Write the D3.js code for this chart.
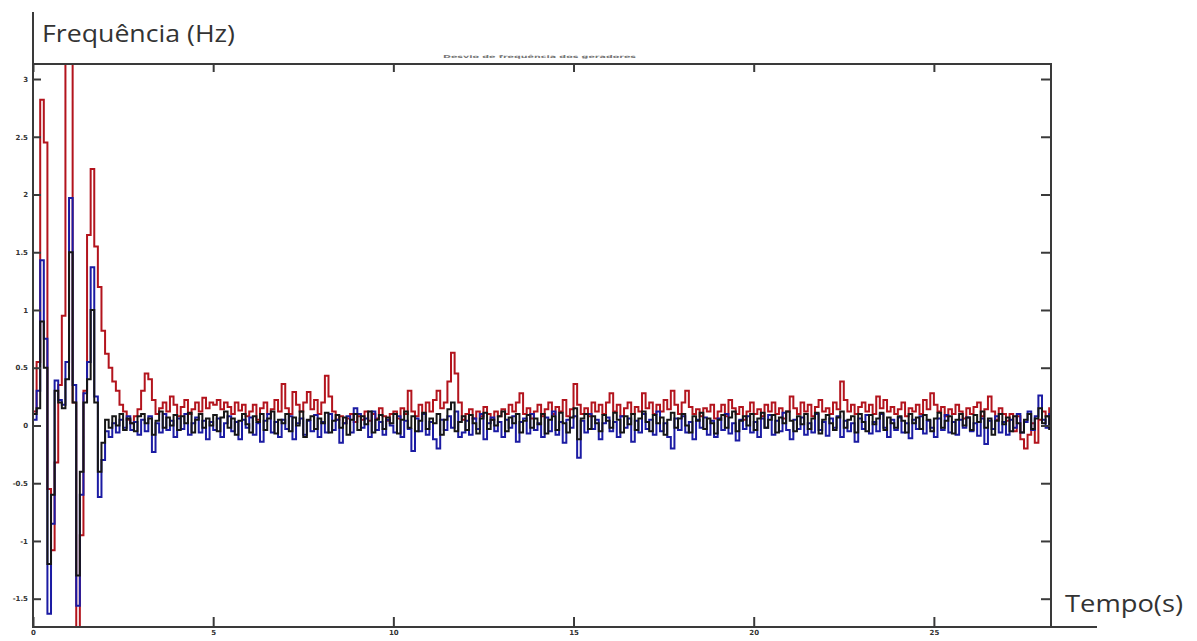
<!DOCTYPE html>
<html>
<head>
<meta charset="utf-8">
<script src="https://cdn.jsdelivr.net/npm/d3@7"></script>
<style>
  html, body { margin: 0; padding: 0; background: #fff; }
  svg { display: block; }
</style>
</head>
<body>
<svg id="chart" width="1197" height="641"></svg>
<script>
// ---- Data ----
const sampleStep = 0.1; // seconds between samples
const yTicks = [3, 2.5, 2, 1.5, 1, 0.5, 0, -0.5, -1, -1.5];
const xTicks = [0, 5, 10, 15, 20, 25];
const yLabel = "Frequência (Hz)";
const xLabel = "Tempo(s)";
const titleText = "Desvio de frequência dos geradores";

const redSeries = [
  0.12, 0.55, 2.82, 2.45, -0.55, -1.08, -0.32, 0.35, 0.95, 3.4,
  3.4, 0.2, -1.9, -0.95, 0.3, 1.65, 2.22, 1.55, 1.2, 0.82,
  0.62, 0.5, 0.38, 0.3, 0.18, 0.12, 0.05, 0.02, 0.08, 0.14,
  0.3, 0.45, 0.4, 0.22, 0.1, 0.15, 0.2, 0.12, 0.25, 0.18,
  0.08, 0.16, 0.22, 0.1, 0.14, 0.2, 0.12, 0.24, 0.15, 0.2,
  0.18, 0.22, 0.14, 0.2, 0.16, 0.1, 0.2, 0.13, 0.18, 0.08,
  0.12, 0.18, 0.05, 0.15, 0.2, 0.1, 0.14, 0.22, 0.12, 0.36,
  0.15, 0.1, 0.29, 0.18, 0.12, 0.2, 0.29, 0.14, 0.22, 0.1,
  0.2, 0.43, 0.25, 0.12, 0.05, 0.08, 0.02, 0.06, 0.1, 0.03,
  0.08, 0.05, 0.12, 0.04, 0.1, 0.06, 0.15, 0.08, 0.04, 0.1,
  0.12, 0.06, 0.15, 0.1, 0.3, 0.12, 0.08, 0.18, 0.1, 0.2,
  0.12, 0.22, 0.3, 0.15, 0.2, 0.38, 0.63, 0.45, 0.2, 0.05,
  0.1, 0.14, 0.06, 0.12, 0.08, 0.16, 0.1, 0.05, 0.12, 0.08,
  0.14, 0.1, 0.18, 0.12, 0.2, 0.28, 0.1, 0.15, 0.06, 0.12,
  0.18, 0.08, 0.14, 0.2, 0.1, 0.16, 0.12, 0.22, 0.08, 0.14,
  0.36, 0.18, 0.1, 0.15, 0.08, 0.2, 0.12, 0.18, 0.1, 0.2,
  0.28, 0.12, 0.18, 0.08, 0.15, 0.2, 0.1, 0.16, 0.12, 0.28,
  0.15, 0.2, 0.1, 0.18, 0.12, 0.22, 0.14, 0.3, 0.18, 0.1,
  0.2, 0.3, 0.16, 0.1, 0.14, 0.08, 0.15, 0.12, 0.18, 0.06,
  0.12, 0.18, 0.08, 0.22, 0.15, 0.1, 0.16, 0.05, 0.12, 0.2,
  0.1, 0.14, 0.08, 0.18, 0.12, 0.2, 0.1, 0.15, 0.06, 0.12,
  0.25, 0.15, 0.1, 0.2, 0.12, 0.18, 0.08, 0.16, 0.22, 0.12,
  0.15, 0.1, 0.2, 0.14, 0.38, 0.22, 0.12, 0.18, 0.1, 0.16,
  0.2, 0.12, 0.18, 0.1, 0.25, 0.15, 0.22, 0.12, 0.16, 0.1,
  0.14, 0.2, 0.08, 0.15, 0.12, 0.18, 0.1, 0.22, 0.14, 0.28,
  0.18, 0.12, 0.16, 0.08, 0.14, 0.1, 0.18, 0.12, 0.06, 0.15,
  0.1, 0.16, 0.2, 0.08, 0.14, 0.25, 0.12, 0.05, 0.15, 0.1,
  0.04, 0.1, -0.05, 0.08, -0.12, -0.2, -0.08, 0.02, -0.15, 0.05,
  0.12, 0.08, 0.15, 0.1
];

const blueSeries = [
  0.05, 0.3, 1.43, 0.75, -1.63, -0.85, 0.39, 0.22, 0.18, 0.55,
  1.97, 0.35, -1.56, -0.6, 0.28, 0.55, 1.37, 0.25, -0.62, -0.3,
  -0.05, -0.1, 0.02, -0.06, 0.05, -0.02, 0.08, -0.04, 0.03, -0.08,
  0.05, -0.05, 0.08, -0.23, 0.02, -0.06, 0.1, -0.04, 0.04, -0.1,
  0.06, -0.03, 0.1, -0.08, 0.02, 0.07, -0.06, 0.04, -0.12, 0.03,
  -0.04, 0.06, -0.1, 0.02, 0.08, -0.05, 0.03, -0.12, 0.05, -0.02,
  0.07, -0.08, 0.02, -0.14, 0.04, 0.1, -0.06, 0.03, -0.1, 0.05,
  -0.03, 0.08, -0.12, 0.02, 0.06, -0.08, 0.04, -0.05, 0.09, -0.1,
  0.03, -0.06, 0.1, -0.04, 0.05, -0.15, 0.02, 0.08, -0.06, 0.15,
  0.1, -0.02, 0.06, -0.1, 0.12, -0.04, 0.03, -0.08, 0.05, 0.0,
  -0.06, 0.08, -0.1, 0.04, -0.03, -0.22, 0.06, -0.05, 0.1, -0.08,
  0.03, -0.12, -0.2, 0.05, -0.04, 0.08, -0.02, 0.12, -0.1, -0.06,
  0.04, -0.08, 0.06, -0.03, 0.1, -0.12, 0.02, 0.07, -0.05, 0.03,
  -0.1, 0.05, -0.02, 0.08, -0.14, 0.03, 0.06, -0.07, 0.1, -0.04,
  0.02, -0.1, 0.07, -0.05, 0.12, -0.08, 0.03, -0.15, 0.05, -0.02,
  0.08, -0.28, 0.04, -0.06, 0.1, -0.03, 0.05, -0.12, 0.02, 0.07,
  -0.05, 0.03, -0.1, 0.08, -0.02, 0.06, -0.14, 0.04, -0.06, 0.1,
  -0.03, 0.05, -0.08, 0.12, -0.05, 0.02, -0.1, -0.2, 0.06, -0.04,
  0.08, -0.06, 0.03, -0.12, 0.05, -0.02, 0.07, -0.08, 0.04, -0.1,
  0.06, -0.04, 0.1, -0.07, 0.02, -0.13, 0.05, -0.03, 0.08, -0.06,
  0.03, -0.1, 0.06, -0.02, 0.09, -0.08, 0.04, -0.05, 0.11, -0.04,
  -0.12, 0.05, -0.03, 0.07, -0.08, 0.02, -0.06, 0.1, -0.04, 0.03,
  -0.09, 0.06, -0.02, 0.08, -0.1, 0.04, -0.05, 0.02, -0.14, 0.06,
  -0.03, 0.09, -0.07, 0.03, -0.05, 0.1, -0.02, -0.1, 0.05, -0.04,
  0.07, -0.06, 0.02, -0.11, 0.05, -0.03, 0.08, -0.07, 0.04, -0.02,
  -0.1, 0.06, -0.04, 0.09, -0.06, 0.03, -0.08, 0.05, -0.02, 0.07,
  -0.05, 0.02, -0.09, 0.06, -0.16, 0.04, -0.03, 0.08, -0.06, 0.03,
  -0.08, 0.05, -0.02, 0.1, -0.06, 0.03, 0.12, -0.04, 0.08, 0.26,
  0.05, -0.02, 0.1, -0.04
];

const blackSeries = [
  0.1, 0.15, 0.9, 0.5, -1.2, -0.6, 0.3, 0.2, 0.15, 0.4,
  1.5, 0.2, -1.3, -0.4, 0.2, 0.4, 1.0, 0.2, -0.4, -0.15,
  0.05, -0.02, 0.08, 0.0, 0.1, -0.04, 0.06, 0.02, -0.05, 0.08,
  0.1, 0.02, 0.06, -0.08, 0.04, 0.12, -0.02, 0.07, 0.0, 0.09,
  -0.04, 0.08, 0.02, 0.11, -0.06, 0.05, 0.1, -0.02, 0.06, 0.0,
  0.09, -0.05, 0.07, 0.12, -0.02, 0.06, -0.08, 0.04, 0.1, 0.01,
  -0.06, 0.08, 0.03, 0.1, -0.04, 0.06, 0.12, -0.07, 0.05, 0.02,
  0.1, -0.05, 0.07, 0.0, 0.12, -0.1, 0.05, 0.08, -0.03, 0.06,
  0.02, 0.11, -0.06, 0.04, 0.09, -0.02, 0.07, -0.08, 0.05, 0.1,
  -0.04, 0.08, 0.01, 0.12, -0.06, 0.05, 0.09, -0.03, 0.07, 0.02,
  0.1, -0.07, 0.05, 0.12, -0.02, 0.08, -0.05, 0.04, 0.11, -0.03,
  0.06, 0.02, 0.1, -0.08, 0.05, 0.14, 0.2, -0.05, 0.03, 0.08,
  -0.04, 0.09, 0.02, -0.07, 0.06, 0.11, -0.03, 0.05, 0.0, 0.08,
  0.12, -0.05, 0.07, 0.02, 0.1, -0.06, 0.04, 0.09, -0.02, 0.06,
  0.01, 0.1, -0.07, 0.05, 0.08, -0.04, 0.11, 0.02, -0.06, 0.07,
  0.15, -0.12, 0.06, 0.1, -0.03, 0.08, 0.02, -0.05, 0.09, 0.04,
  -0.02, 0.11, 0.05, -0.06, 0.08, 0.01, 0.1, -0.04, 0.06, 0.12,
  0.03, -0.05, 0.09, 0.02, 0.07, -0.08, 0.05, 0.11, -0.02, 0.06,
  0.1, 0.0, -0.06, 0.08, 0.04, 0.11, -0.03, 0.06, 0.02, -0.07,
  0.05, 0.09, -0.02, 0.07, 0.12, -0.05, 0.04, 0.08, 0.0, 0.1,
  -0.04, 0.06, 0.11, -0.02, 0.05, 0.09, -0.06, 0.07, 0.02, 0.12,
  0.04, -0.05, 0.08, 0.01, 0.1, -0.03, 0.06, 0.11, -0.07, 0.05,
  0.09, 0.02, -0.04, 0.07, 0.12, -0.02, 0.05, 0.08, -0.06, 0.1,
  0.03, -0.05, 0.09, 0.01, 0.06, 0.11, -0.04, 0.07, 0.02, -0.02,
  0.08, 0.04, -0.06, 0.1, 0.02, 0.07, -0.03, 0.09, 0.05, -0.05,
  0.06, 0.11, -0.02, 0.04, 0.08, -0.07, 0.05, 0.1, 0.0, 0.07,
  -0.04, 0.09, 0.03, 0.12, -0.02, 0.06, -0.08, 0.04, 0.1, 0.01,
  0.07, -0.05, 0.08, 0.02, -0.06, 0.05, 0.1, -0.03, 0.06, 0.15,
  0.02, 0.08, -0.03, 0.05
];

// ---- Layout ----
const svg = d3.select("#chart");
const plot = { left: 33, right: 1051, top: 64, bottom: 627 };

const x = d3.scaleLinear().domain([0, 28.25]).range([plot.left, plot.right]);
const y = d3.scaleLinear().domain([-1.745, 3.13]).range([plot.bottom, plot.top]);

const axisColor = "#3a3a3a";

svg.append("defs").append("clipPath").attr("id", "plotClip")
  .append("rect")
  .attr("x", plot.left).attr("y", plot.top)
  .attr("width", plot.right - plot.left).attr("height", plot.bottom - plot.top);

// ---- Series ----
const line = d3.line()
  .x((d, i) => x(i * sampleStep))
  .y(d => y(d))
  .curve(d3.curveStepAfter);

const seriesList = [
  { values: redSeries, color: "#b3141d" },
  { values: blueSeries, color: "#1b1ba3" },
  { values: blackSeries, color: "#161616" }
];

const g = svg.append("g").attr("clip-path", "url(#plotClip)");
seriesList.forEach(s => {
  g.append("path")
    .datum(s.values)
    .attr("fill", "none")
    .attr("stroke", s.color)
    .attr("stroke-width", 2)
    .attr("stroke-linejoin", "miter")
    .attr("d", line);
});

// ---- Axes ----
const fmt = d => String(d);

const leftAxis = svg.append("g")
  .attr("transform", `translate(${plot.left},0)`)
  .call(d3.axisLeft(y).tickValues(yTicks).tickSize(-8).tickPadding(5).tickFormat(fmt));
const bottomAxis = svg.append("g")
  .attr("transform", `translate(0,${plot.bottom})`)
  .call(d3.axisBottom(x).tickValues(xTicks).tickSize(-10).tickPadding(3).tickFormat(fmt));
const rightAxis = svg.append("g")
  .attr("transform", `translate(${plot.right},0)`)
  .call(d3.axisRight(y).tickValues(yTicks).tickSize(-10).tickFormat(""));
const topAxis = svg.append("g")
  .attr("transform", `translate(0,${plot.top})`)
  .call(d3.axisTop(x).tickValues(xTicks).tickSize(-8).tickFormat(""));

[leftAxis, bottomAxis, rightAxis, topAxis].forEach(a => {
  a.select(".domain").remove();
  a.selectAll(".tick line").attr("stroke", axisColor).attr("stroke-width", 2);
  a.selectAll(".tick text")
    .attr("fill", "#333")
    .style("font-family", "'DejaVu Sans', sans-serif")
    .style("font-size", "7px")
    .style("font-weight", "bold");
});

// frame lines
svg.append("line").attr("x1", plot.left).attr("x2", plot.left).attr("y1", 12).attr("y2", plot.bottom + 1)
  .attr("stroke", axisColor).attr("stroke-width", 2);
svg.append("line").attr("x1", plot.left - 1).attr("x2", 1097).attr("y1", plot.bottom).attr("y2", plot.bottom)
  .attr("stroke", axisColor).attr("stroke-width", 2);
svg.append("line").attr("x1", plot.left).attr("x2", plot.right).attr("y1", plot.top).attr("y2", plot.top)
  .attr("stroke", axisColor).attr("stroke-width", 2);
svg.append("line").attr("x1", plot.right).attr("x2", plot.right).attr("y1", plot.top - 1).attr("y2", plot.bottom)
  .attr("stroke", axisColor).attr("stroke-width", 2);

// ---- Labels ----
svg.append("text")
  .attr("x", 42).attr("y", 42)
  .attr("fill", "#333")
  .attr("textLength", 193)
  .attr("lengthAdjust", "spacingAndGlyphs")
  .style("font-family", "'Open Sans', sans-serif")
  .style("font-size", "23px")
  .text(yLabel);

svg.append("text")
  .attr("x", 1065).attr("y", 612)
  .attr("fill", "#333")
  .attr("textLength", 118)
  .attr("lengthAdjust", "spacingAndGlyphs")
  .style("font-family", "'Open Sans', sans-serif")
  .style("font-size", "23px")
  .text(xLabel);

svg.append("text")
  .attr("x", 443).attr("y", 58)
  .attr("fill", "#777")
  .attr("textLength", 193)
  .attr("lengthAdjust", "spacingAndGlyphs")
  .style("font-family", "'DejaVu Sans', sans-serif")
  .style("font-size", "4px")
  .style("font-weight", "bold")
  .text(titleText);
</script>
</body>
</html>
